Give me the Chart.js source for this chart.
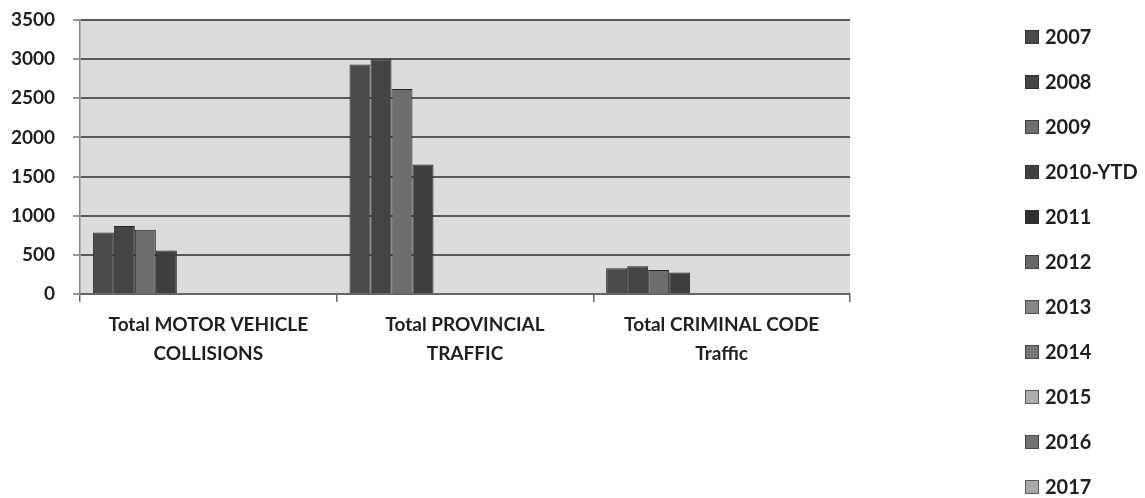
<!DOCTYPE html>
<html>
<head>
<meta charset="utf-8">
<script src="https://cdn.jsdelivr.net/npm/chart.js@4/dist/chart.umd.min.js"></script>
<style>
  html, body { margin: 0; padding: 0; background: #fff; }
  #wrap { width: 1145px; height: 498px; }
</style>
</head>
<body>
<div id="wrap"><canvas id="chart"></canvas></div>
<script>
const categories = [
  ['Total MOTOR VEHICLE', 'COLLISIONS'],
  ['Total PROVINCIAL', 'TRAFFIC'],
  ['Total CRIMINAL CODE', 'Traffic']
];
const years = ['2007', '2008', '2009', '2010-YTD', '2011', '2012', '2013', '2014', '2015', '2016', '2017'];
const yTicks = [0, 500, 1000, 1500, 2000, 2500, 3000, 3500];

// values, per year
const v2007 = [785, 2930, 330];
const v2008 = [870, 3000, 355];
const v2009 = [820, 2620, 305];
const v2010 = [555, 1655, 275];
const empty = [null, null, null]; // 2011-2017 have no bars

const yearValues = [v2007, v2008, v2009, v2010, empty, empty, empty, empty, empty, empty, empty];
const yearColors = ['#4a4a4a', '#444444', '#6d6d6d', '#3f3f3f', '#2e2e2e', '#686868',
                    '#858585', '#767676', '#ababab', '#737373', '#a9a9a9'];

const FONT = 'Lato, "Noto Sans", sans-serif';

const plotBg = {
  id: 'plotBg',
  beforeDraw(chart) {
    const { ctx, chartArea: a } = chart;
    ctx.save();
    ctx.fillStyle = '#dcdcdc';
    ctx.fillRect(a.left, a.top, a.right - a.left, a.bottom - a.top);
    ctx.restore();
  }
};

// legend drawn by hand so all 11 entries stay in one column
const sideLegend = {
  id: 'sideLegend',
  afterDraw(chart) {
    const ctx = chart.ctx;
    ctx.save();
    ctx.font = 'bold 20px ' + FONT;
    ctx.textBaseline = 'middle';
    chart.data.datasets.forEach((ds, i) => {
      const y = 37 + i * 45;
      ctx.fillStyle = ds.backgroundColor;
      ctx.fillRect(1025, y - 7, 14, 14);
      ctx.strokeStyle = 'rgba(40,40,40,0.6)';
      ctx.lineWidth = 1;
      ctx.strokeRect(1025.5, y - 6.5, 13, 13);
      ctx.fillStyle = '#1f1f1f';
      ctx.fillText(ds.label, 1045, y + 1);
    });
    ctx.restore();
  }
};

new Chart(document.getElementById('chart'), {
  type: 'bar',
  data: {
    labels: categories,
    datasets: years.map((y, i) => ({
      label: y,
      data: yearValues[i],
      backgroundColor: yearColors[i],
      borderColor: '#262626',
      borderWidth: 1,
      categoryPercentage: 0.9,
      barPercentage: 1.0
    }))
  },
  options: {
    responsive: true,
    maintainAspectRatio: false,
    animation: false,
    layout: { padding: { top: 20, right: 295, bottom: 0, left: 0 } },
    plugins: {
      legend: { display: false },
      tooltip: { enabled: false }
    },
    scales: {
      x: {
        grid: { drawOnChartArea: false, color: '#666', tickLength: 8, lineWidth: 1.5 },
        border: { color: '#666', width: 2 },
        ticks: {
          color: '#1f1f1f',
          padding: 9,
          font: { family: FONT, size: 19, weight: 'bold', lineHeight: 1.5 },
          maxRotation: 0,
          autoSkip: false
        },
        afterFit(scale) { scale.height = 204; }
      },
      y: {
        min: 0,
        max: 3500,
        afterBuildTicks(scale) { scale.ticks = yTicks.map(v => ({ value: v })); },
        grid: { color: '#5a5a5a', lineWidth: 2, tickLength: 7, tickColor: '#777', tickWidth: 1.5 },
        border: { color: '#888', width: 1.5 },
        ticks: {
          color: '#1f1f1f',
          padding: 18,
          font: { family: FONT, size: 19, weight: 'bold' },
          callback: v => String(v)
        },
        // fixed axis width, and no extra top padding so 3500 sits at the top edge
        afterFit(scale) { scale.width = 80; scale.paddingTop = 0; }
      }
    }
  },
  plugins: [plotBg, sideLegend]
});
</script>
</body>
</html>
